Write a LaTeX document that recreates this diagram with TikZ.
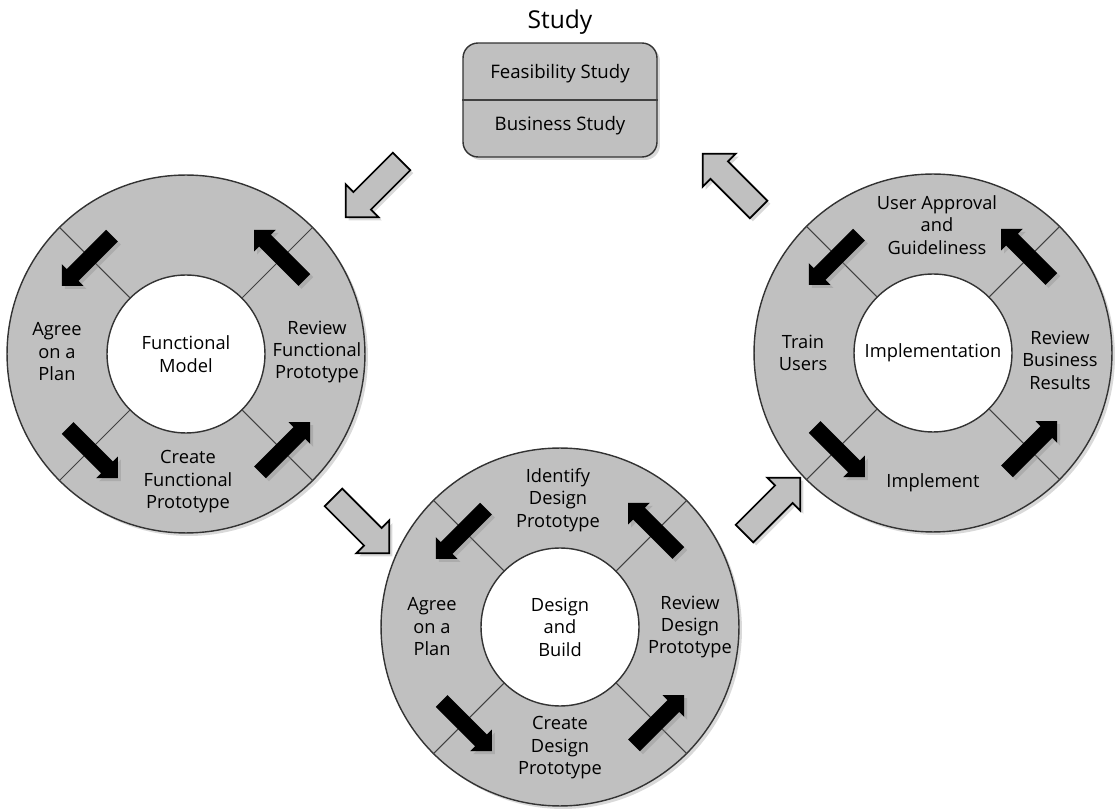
\documentclass[tikz,border=0pt]{standalone}
\usepackage{fontspec}
\setmainfont{Open Sans}
\usepackage{tikz}
\usetikzlibrary{calc,shapes.arrows,shadows}
\definecolor{phasegray}{RGB}{192,192,192}
\tikzset{
	softshadow/.style={drop shadow={opacity=0.3,shadow xshift=0.06cm,shadow yshift=-0.06cm}},
	ring/.style={circle,draw=black!80,line width=0.8pt,fill=phasegray,minimum size=7.16cm,inner sep=0pt,softshadow},
	hub/.style={circle,draw=black!80,line width=0.8pt,fill=white,minimum size=3.16cm,inner sep=0pt,align=center,font=\fontsize{10.4}{12.8}\selectfont},
	divider/.style={draw=black!75,line width=0.6pt},
	steplabel/.style={align=center,inner sep=1pt,font=\fontsize{10.4}{12.8}\selectfont},
	steparrow/.style={single arrow,fill=black,inner sep=0.16cm,single arrow head extend=0.14cm,single arrow tip angle=90,minimum height=1.42cm,softshadow},
	flowarrow/.style={single arrow,draw=black,line width=1pt,fill=phasegray,inner sep=0.23cm,single arrow head extend=0.22cm,single arrow tip angle=90,minimum height=1.58cm,softshadow}
}

\begin{document}
\begin{tikzpicture}[x=0.02cm,y=0.02cm,
		studybox/.style={rectangle,rounded corners=0.3cm,draw=black!80,line width=0.8pt,fill=phasegray,minimum width=3.88cm,minimum height=2.28cm,softshadow},
		boxtext/.style={inner sep=1pt,font=\fontsize{10.6}{13}\selectfont}]
	\useasboundingbox (0,0) rectangle (1116,-810);

	% study box
	\node[font=\fontsize{14}{16}\selectfont] (title) at (560,-22) {Study};
	\node[studybox] (study) at (560,-100) {};
	\draw[divider] (study.west) -- (study.east);
	\node[boxtext] (feas) at (560,-74) {Feasibility Study};
	\node[boxtext] (bus) at (560,-126) {Business Study};

	% the three rings
	\node[ring] (fm) at (186,-354) {};
	\node[ring] (db) at (560,-627) {};
	\node[ring] (im) at (933,-353) {};
	\node[hub] (fmc) at (fm) {Functional\\Model};
	\node[hub] (dbc) at (db) {Design\\and\\Build};
	\node[hub] (imc) at (im) {Implementation};

	\foreach \r in {fm,db,im} {
		\foreach \a in {45,135,225,315} {
			\draw[divider] (\r c.\a) -- (\r.\a);
			\node[steparrow,rotate=\a+90] (\r-a\a) at ($(\r)+(\a:136)$) {};
		}
	}

	% functional model
	\node[steplabel] (fm-l) at ($(fm)+(-129,2)$) {Agree\\on a\\Plan};
	\node[steplabel] (fm-r) at ($(fm)+(131,2)$) {Review\\Functional\\Prototype};
	\node[steplabel] (fm-b) at ($(fm)+(2,-128)$) {Create\\Functional\\Prototype};

	% design and build
	\node[steplabel] (db-t) at ($(db)+(-2,127)$) {Identify\\Design\\Prototype};
	\node[steplabel] (db-l) at ($(db)+(-128,0)$) {Agree\\on a\\Plan};
	\node[steplabel] (db-r) at ($(db)+(130,0)$) {Review\\Design\\Prototype};
	\node[steplabel] (db-b) at ($(db)+(0,-121)$) {Create\\Design\\Prototype};

	% implementation
	\node[steplabel] (im-t) at ($(im)+(4,128)$) {User Approval\\and\\Guideliness};
	\node[steplabel] (im-l) at ($(im)+(-130,0)$) {Train\\Users};
	\node[steplabel] (im-r) at ($(im)+(127,-7)$) {Review\\Business\\Results};
	\node[steplabel] (im-b) at ($(im)+(0,-130)$) {Implement};

	% flow between phases
	\node[flowarrow,rotate=225] (go1) at (378,-185) {};
	\node[flowarrow,rotate=-45] (go2) at (357,-521) {};
	\node[flowarrow,rotate=45] (go3) at (768,-510) {};
	\node[flowarrow,rotate=135] (go4) at (735,-186) {};
\end{tikzpicture}
\end{document}
